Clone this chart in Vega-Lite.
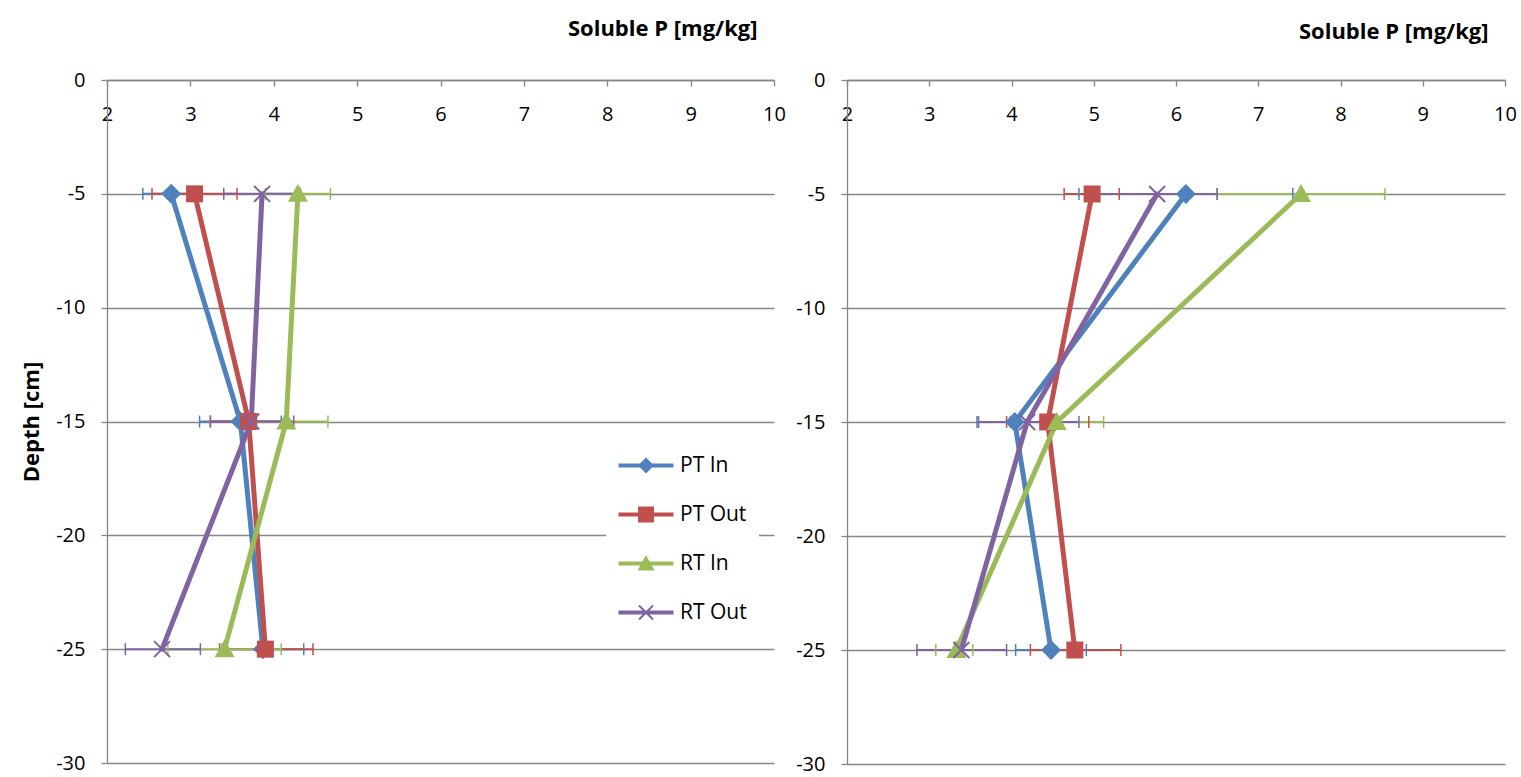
{
  "$schema": "https://vega.github.io/schema/vega-lite/v6.json",
  "padding": {"left": 20, "top": 17, "right": 5, "bottom": 13},
  "background": "white",
  "config": {
    "font": "Open Sans",
    "view": {"stroke": null},
    "axis": {
      "labelFont": "Open Sans", "labelFontSize": 20, "labelColor": "black",
      "titleFont": "Open Sans", "titleFontSize": 22, "titleFontWeight": "bold", "titleColor": "black",
      "domainColor": "#868686", "domainWidth": 1.3, "tickColor": "#868686", "tickWidth": 1.3,
      "gridColor": "#868686", "gridWidth": 1.3,
      "labelFlush": false, "labelOverlap": false, "labelBound": false
    },
    "concat": {"spacing": 73}
  },
  "bounds": "flush",
  "datasets": {
    "d": [
      {"panel": "L", "series": "PT In", "depth": -5, "value": 2.77, "lo": 2.43, "hi": 3.11},
      {"panel": "L", "series": "PT In", "depth": -15, "value": 3.60, "lo": 3.11, "hi": 4.09},
      {"panel": "L", "series": "PT In", "depth": -25, "value": 3.87, "lo": 3.38, "hi": 4.36},
      {"panel": "L", "series": "PT Out", "depth": -5, "value": 3.05, "lo": 2.54, "hi": 3.56},
      {"panel": "L", "series": "PT Out", "depth": -15, "value": 3.70, "lo": 3.24, "hi": 4.16},
      {"panel": "L", "series": "PT Out", "depth": -25, "value": 3.90, "lo": 3.35, "hi": 4.47},
      {"panel": "L", "series": "RT In", "depth": -5, "value": 4.29, "lo": 3.90, "hi": 4.68},
      {"panel": "L", "series": "RT In", "depth": -15, "value": 4.15, "lo": 3.66, "hi": 4.65},
      {"panel": "L", "series": "RT In", "depth": -25, "value": 3.41, "lo": 2.73, "hi": 4.09},
      {"panel": "L", "series": "RT Out", "depth": -5, "value": 3.86, "lo": 3.40, "hi": 4.32},
      {"panel": "L", "series": "RT Out", "depth": -15, "value": 3.73, "lo": 3.24, "hi": 4.24},
      {"panel": "L", "series": "RT Out", "depth": -25, "value": 2.66, "lo": 2.22, "hi": 3.12},
      {"panel": "R", "series": "PT In", "depth": -5, "value": 6.12, "lo": 4.82, "hi": 7.42},
      {"panel": "R", "series": "PT In", "depth": -15, "value": 4.04, "lo": 3.58, "hi": 4.50},
      {"panel": "R", "series": "PT In", "depth": -25, "value": 4.48, "lo": 4.05, "hi": 4.91},
      {"panel": "R", "series": "PT Out", "depth": -5, "value": 4.98, "lo": 4.64, "hi": 5.31},
      {"panel": "R", "series": "PT Out", "depth": -15, "value": 4.44, "lo": 3.94, "hi": 4.94},
      {"panel": "R", "series": "PT Out", "depth": -25, "value": 4.77, "lo": 4.23, "hi": 5.33},
      {"panel": "R", "series": "RT In", "depth": -5, "value": 7.52, "lo": 6.50, "hi": 8.54},
      {"panel": "R", "series": "RT In", "depth": -15, "value": 4.55, "lo": 3.98, "hi": 5.12},
      {"panel": "R", "series": "RT In", "depth": -25, "value": 3.33, "lo": 3.08, "hi": 3.53},
      {"panel": "R", "series": "RT Out", "depth": -5, "value": 5.77, "lo": 5.04, "hi": 6.50},
      {"panel": "R", "series": "RT Out", "depth": -15, "value": 4.19, "lo": 3.60, "hi": 4.82},
      {"panel": "R", "series": "RT Out", "depth": -25, "value": 3.39, "lo": 2.85, "hi": 3.94}
    ]
  },
  "data": {"name": "d"},
  "resolve": {
    "scale": {"color": "independent", "shape": "independent", "x": "independent", "y": "independent"},
    "legend": {"color": "independent", "shape": "independent"}
  },
  "hconcat": [
    {
      "width": 667, "height": 683,
      "transform": [{"filter": "datum.panel === 'L'"}],
      "encoding": {
        "y": {"field": "depth", "type": "quantitative",
          "scale": {"domain": [-30, 0], "nice": false, "zero": false},
          "axis": {"values": [0, -5, -10, -15, -20, -25, -30], "labelExpr": "toString(datum.value)", "title": "Depth [cm]", "grid": true, "tickSize": 6, "labelPadding": 16, "titlePadding": 12}},
        "x": {"field": "value", "type": "quantitative", "scale": {"domain": [2, 10], "nice": false, "zero": false},
          "axis": {"orient": "top", "values": [2, 3, 4, 5, 6, 7, 8, 9, 10], "title": "Soluble P [mg/kg]", "grid": false, "tickSize": -6, "labelPadding": -28, "labelBaseline": "middle", "titleAlign": "right", "titleAnchor": null, "titleX": 650, "titleY": -52, "titleBaseline": "middle"}},
        "color": {"field": "series", "type": "nominal",
          "scale": {"domain": ["PT In", "PT Out", "RT In", "RT Out"], "range": ["#4F81BD", "#C0504D", "#9BBB59", "#8064A2"]},
          "legend": {"title": null, "orient": "none", "legendX": 499, "legendY": 363, "fillColor": "white", "padding": 12,
            "labelFont": "Open Sans", "labelFontSize": 21, "labelColor": "black", "labelOffset": 41,
            "symbolSize": 400, "symbolStrokeWidth": 0, "symbolOpacity": 1, "rowPadding": 27}}
      },
      "layer": [
        {
          "mark": {"type": "rule", "strokeWidth": 2},
          "encoding": {
            "x": {"field": "lo", "type": "quantitative",
              "axis": {"orient": "top", "values": [2, 3, 4, 5, 6, 7, 8, 9, 10], "title": "Soluble P [mg/kg]", "grid": false, "tickSize": -6, "labelPadding": -28, "labelBaseline": "middle", "titleAlign": "right", "titleAnchor": null, "titleX": 650, "titleY": -52, "titleBaseline": "middle"}},
            "x2": {"field": "hi"}
          }
        },
        {
          "mark": {"type": "point", "shape": "M0,-1L0,1", "filled": false, "size": 144, "strokeWidth": 1.5, "opacity": 1},
          "encoding": {
            "x": {"field": "lo", "type": "quantitative",
              "axis": {"orient": "top", "values": [2, 3, 4, 5, 6, 7, 8, 9, 10], "title": "Soluble P [mg/kg]", "grid": false, "tickSize": -6, "labelPadding": -28, "labelBaseline": "middle", "titleAlign": "right", "titleAnchor": null, "titleX": 650, "titleY": -52, "titleBaseline": "middle"}}
          }
        },
        {
          "mark": {"type": "point", "shape": "M0,-1L0,1", "filled": false, "size": 144, "strokeWidth": 1.5, "opacity": 1},
          "encoding": {
            "x": {"field": "hi", "type": "quantitative",
              "axis": {"orient": "top", "values": [2, 3, 4, 5, 6, 7, 8, 9, 10], "title": "Soluble P [mg/kg]", "grid": false, "tickSize": -6, "labelPadding": -28, "labelBaseline": "middle", "titleAlign": "right", "titleAnchor": null, "titleX": 650, "titleY": -52, "titleBaseline": "middle"}}
          }
        },
        {
          "mark": {"type": "line", "strokeWidth": 5, "strokeCap": "round", "strokeJoin": "round"},
          "encoding": {"order": {"field": "depth", "type": "quantitative", "sort": "descending"}}
        },
        {
          "transform": [{"filter": "datum.series === 'PT In'"}],
          "mark": {"type": "point", "filled": true, "shape": "M0,-1L1,0L0,1L-1,0Z", "size": 400, "strokeWidth": 0, "opacity": 1}
        },
        {
          "transform": [{"filter": "datum.series === 'PT Out'"}],
          "mark": {"type": "point", "filled": true, "shape": "M-0.85,-0.85L0.85,-0.85L0.85,0.85L-0.85,0.85Z", "size": 400, "strokeWidth": 0, "opacity": 1}
        },
        {
          "transform": [{"filter": "datum.series === 'RT In'"}],
          "mark": {"type": "point", "filled": true, "shape": "M0,-1L1,0.8L-1,0.8Z", "size": 400, "strokeWidth": 0, "opacity": 1}
        },
        {
          "transform": [{"filter": "datum.series === 'RT Out'"}],
          "mark": {"type": "point", "filled": false, "shape": "M-0.8,-0.8L0.8,0.8M-0.8,0.8L0.8,-0.8", "size": 400, "strokeWidth": 2, "opacity": 1}
        },
        {
          "mark": {"type": "point", "filled": true, "size": 400, "strokeWidth": 0, "opacity": 0},
          "encoding": {
            "shape": {"field": "series", "type": "nominal", "legend": null,
              "scale": {"domain": ["PT In", "PT Out", "RT In", "RT Out"], "range": [
                "M-1,-0.2L1.15,-0.2L1.75,-0.8L2.35,-0.2L4.5,-0.2L4.5,0.2L2.35,0.2L1.75,0.8L1.15,0.2L-1,0.2Z",
                "M-1,-0.2L0.95,-0.2L0.95,-0.8L2.55,-0.8L2.55,-0.2L4.5,-0.2L4.5,0.2L2.55,0.2L2.55,0.8L0.95,0.8L0.95,0.2L-1,0.2Z",
                "M-1,-0.2L1.394,-0.2L1.75,-0.85L2.106,-0.2L4.5,-0.2L4.5,0.2L2.326,0.2L2.6,0.7L0.9,0.7L1.174,0.2L-1,0.2Z",
                "M-1,-0.2L4.5,-0.2L4.5,0.2L-1,0.2ZM0.98,-0.63L1.12,-0.77L2.52,0.63L2.38,0.77ZM2.38,-0.77L2.52,-0.63L1.12,0.77L0.98,0.63Z"]}}
          }
        }
      ]
    },
    {
      "width": 658, "height": 684,
      "transform": [{"filter": "datum.panel === 'R'"}],
      "encoding": {
        "y": {"field": "depth", "type": "quantitative",
          "scale": {"domain": [-30, 0], "nice": false, "zero": false},
          "axis": {"values": [0, -5, -10, -15, -20, -25, -30], "labelExpr": "toString(datum.value)", "title": null, "grid": true, "tickSize": 6, "labelPadding": 16}},
        "x": {"field": "value", "type": "quantitative", "scale": {"domain": [2, 10], "nice": false, "zero": false},
          "axis": {"orient": "top", "values": [2, 3, 4, 5, 6, 7, 8, 9, 10], "title": "Soluble P [mg/kg]", "grid": false, "tickSize": -6, "labelPadding": -28, "labelBaseline": "middle", "titleAlign": "right", "titleAnchor": null, "titleX": 641, "titleY": -49, "titleBaseline": "middle"}},
        "color": {"field": "series", "type": "nominal",
          "scale": {"domain": ["PT In", "PT Out", "RT In", "RT Out"], "range": ["#4F81BD", "#C0504D", "#9BBB59", "#8064A2"]},
          "legend": null}
      },
      "layer": [
        {
          "mark": {"type": "rule", "strokeWidth": 2},
          "encoding": {
            "x": {"field": "lo", "type": "quantitative",
              "axis": {"orient": "top", "values": [2, 3, 4, 5, 6, 7, 8, 9, 10], "title": "Soluble P [mg/kg]", "grid": false, "tickSize": -6, "labelPadding": -28, "labelBaseline": "middle", "titleAlign": "right", "titleAnchor": null, "titleX": 641, "titleY": -49, "titleBaseline": "middle"}},
            "x2": {"field": "hi"}
          }
        },
        {
          "mark": {"type": "point", "shape": "M0,-1L0,1", "filled": false, "size": 144, "strokeWidth": 1.5, "opacity": 1},
          "encoding": {
            "x": {"field": "lo", "type": "quantitative",
              "axis": {"orient": "top", "values": [2, 3, 4, 5, 6, 7, 8, 9, 10], "title": "Soluble P [mg/kg]", "grid": false, "tickSize": -6, "labelPadding": -28, "labelBaseline": "middle", "titleAlign": "right", "titleAnchor": null, "titleX": 641, "titleY": -49, "titleBaseline": "middle"}}
          }
        },
        {
          "mark": {"type": "point", "shape": "M0,-1L0,1", "filled": false, "size": 144, "strokeWidth": 1.5, "opacity": 1},
          "encoding": {
            "x": {"field": "hi", "type": "quantitative",
              "axis": {"orient": "top", "values": [2, 3, 4, 5, 6, 7, 8, 9, 10], "title": "Soluble P [mg/kg]", "grid": false, "tickSize": -6, "labelPadding": -28, "labelBaseline": "middle", "titleAlign": "right", "titleAnchor": null, "titleX": 641, "titleY": -49, "titleBaseline": "middle"}}
          }
        },
        {
          "mark": {"type": "line", "strokeWidth": 5, "strokeCap": "round", "strokeJoin": "round"},
          "encoding": {"order": {"field": "depth", "type": "quantitative", "sort": "descending"}}
        },
        {
          "transform": [{"filter": "datum.series === 'PT In'"}],
          "mark": {"type": "point", "filled": true, "shape": "M0,-1L1,0L0,1L-1,0Z", "size": 400, "strokeWidth": 0, "opacity": 1}
        },
        {
          "transform": [{"filter": "datum.series === 'PT Out'"}],
          "mark": {"type": "point", "filled": true, "shape": "M-0.85,-0.85L0.85,-0.85L0.85,0.85L-0.85,0.85Z", "size": 400, "strokeWidth": 0, "opacity": 1}
        },
        {
          "transform": [{"filter": "datum.series === 'RT In'"}],
          "mark": {"type": "point", "filled": true, "shape": "M0,-1L1,0.8L-1,0.8Z", "size": 400, "strokeWidth": 0, "opacity": 1}
        },
        {
          "transform": [{"filter": "datum.series === 'RT Out'"}],
          "mark": {"type": "point", "filled": false, "shape": "M-0.8,-0.8L0.8,0.8M-0.8,0.8L0.8,-0.8", "size": 400, "strokeWidth": 2, "opacity": 1}
        }
      ]
    }
  ]
}
